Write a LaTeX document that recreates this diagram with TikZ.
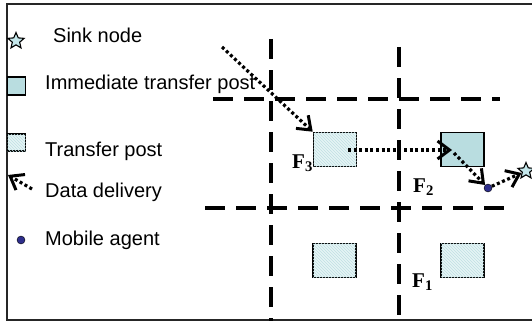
\documentclass[tikz,border=0pt]{standalone}
\usepackage{fontspec}
\setmainfont{Liberation Sans}
\newfontfamily\timesfont{Liberation Serif}
\usetikzlibrary{arrows.meta,shapes.geometric,patterns}
\definecolor{itpfill}{HTML}{B9DDE0}
\definecolor{tpfill}{HTML}{E6F4F5}
\definecolor{tphatch}{HTML}{BFE0E3}
\definecolor{agentblue}{HTML}{2E2E8C}
\definecolor{sinkfill}{HTML}{C4E6EA}
\begin{document}
\begin{tikzpicture}[x=1pt,y=-1pt,
  itp/.style={draw=black, line width=1.6pt, fill=itpfill, minimum width=43pt, minimum height=34pt, inner sep=0pt},
  tp/.style={draw=black, line width=1.6pt, fill=tpfill, postaction={pattern=north west lines, pattern color=tphatch}, minimum width=43pt, minimum height=34pt, inner sep=0pt},
  sinkstar/.style={star, star points=5, star point ratio=2.2, draw=black, line width=1.1pt, fill=sinkfill, minimum size=17pt, inner sep=0pt},
  agent/.style={circle, draw=black, line width=0.4pt, fill=agentblue, minimum size=8pt, inner sep=0pt},
  grid/.style={line width=4.2pt, dash pattern=on 20pt off 11pt},
  deliv/.style={line width=3.2pt, dash pattern=on 3pt off 2.6pt, -{Straight Barb[length=12pt,width=18pt,line width=3pt]}},
  legtxt/.style={anchor=base west, inner sep=0pt, font=\fontsize{20}{24}\selectfont},
  flabel/.style={anchor=base west, inner sep=0pt, font=\timesfont\bfseries\fontsize{21}{24}\selectfont}
]
\useasboundingbox (0,0) rectangle (532,321);
\fill[white] (0,0) rectangle (532,321);
% frame
\draw[line width=1.6pt, black!85] (532,4) -- (7,4) -- (7,320) -- (532,320);

% grid dashed lines
\draw[grid] (271,39) -- (271,321);
\draw[grid] (399,47) -- (399,321);
\draw[grid] (213,99) -- (500,99);
\draw[grid] (205,208) -- (510,208);

% posts
\node[tp]  (b3) at (335,149.5) {};
\node[itp] (b2) at (462.5,149.5) {};
\node[tp]  (b4) at (334.5,260.5) {};
\node[tp]  (b1) at (462.5,260.5) {};

% labels
\node[flabel] (f3) at (292,168) {F\textsubscript{3}};
\node[flabel] (f2) at (413,192) {F\textsubscript{2}};
\node[flabel] (f1) at (412,287) {F\textsubscript{1}};

% agent and sink
\node[agent] (ag) at (488,188) {};
\node[sinkstar] (sink) at (526,171) {};

% data delivery arrows
\coordinate (s1) at (222,47);
\coordinate (s2) at (348,150);
\coordinate (t2) at (452,150);
\coordinate (s3) at (454,153);
\draw[deliv] (s1) -- (b3.north west);
\draw[deliv] (s2) -- (t2);
\draw[deliv] (s3) -- (ag);
\draw[deliv] (ag) -- (sink);

% legend
\node[sinkstar] (lsink) at (16,41) {};
\node[legtxt] (tsink) at (53,42) {Sink node};
\node[draw=black, line width=1.6pt, fill=itpfill, minimum width=18pt, minimum height=18pt, inner sep=0pt] (litp) at (16.5,86) {};
\node[legtxt] (titp) at (45,89) {Immediate transfer post};
\node[draw=black, line width=1.6pt, fill=tpfill, postaction={pattern=north west lines, pattern color=tphatch}, minimum width=18pt, minimum height=17pt, inner sep=0pt] (ltp) at (16.5,142.5) {};
\node[legtxt] (ttp) at (45,156) {Transfer post};
\coordinate (ld1) at (32,189);
\coordinate (ld2) at (8,175);
\draw[deliv] (ld1) -- (ld2);
\node[legtxt] (tdd) at (45,197) {Data delivery};
\node[agent] (lag) at (21,240) {};
\node[legtxt] (tag) at (45,245) {Mobile agent};
\end{tikzpicture}
\end{document}
